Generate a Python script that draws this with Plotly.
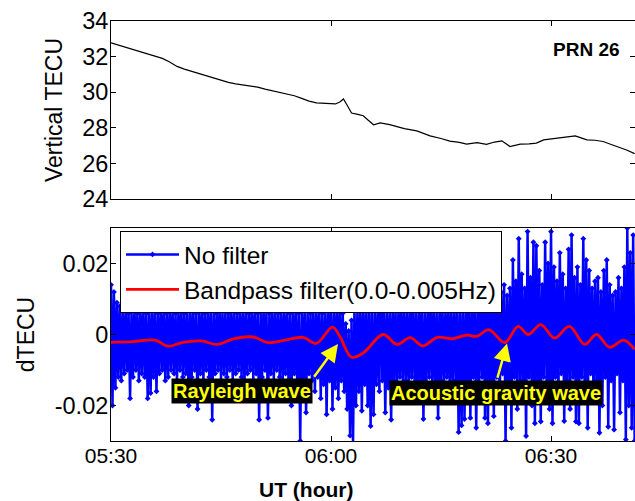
import pandas as pd
import plotly.graph_objects as go

T0 = pd.Timestamp("2011-03-11 05:30:00")

# ---- top panel: vertical TEC (PRN 26) ----
vtec_minutes = [0, 1, 2, 3, 4, 5, 6, 7, 8, 9, 10, 11, 12, 13, 14, 15, 16, 17, 18, 19,
                20, 21, 22, 23, 24, 25, 26, 27, 28, 29, 30, 30.6, 31.2, 31.7, 32.3, 32.8,
                33.5, 34.4, 35.0, 35.8, 36.7, 37.3, 38.0, 39.0, 40.0, 41.7, 42.5, 43.5,
                45.0, 46.2, 47.5, 48.5, 49.9, 51.2, 52.3, 53.3, 54.4, 55.8, 57.0, 58.0,
                59.0, 60.0, 61.2, 62.3, 63.3, 64.0, 64.9, 66.0, 67.1, 68.3, 69.4, 70.3, 71.4]
vtec_values = [32.77, 32.64, 32.52, 32.40, 32.26, 32.12, 32.01, 31.90, 31.70, 31.45,
               31.30, 31.17, 31.05, 30.95, 30.80, 30.66, 30.55, 30.47, 30.40, 30.36,
               30.28, 30.17, 30.07, 29.98, 29.90, 29.80, 29.65, 29.50, 29.40, 29.37,
               29.35, 29.34, 29.45, 29.62, 29.20, 28.83, 28.77, 28.68, 28.45, 28.17,
               28.28, 28.25, 28.18, 28.07, 27.95, 27.83, 27.70, 27.55, 27.40, 27.25,
               27.18, 27.08, 27.17, 27.07, 27.20, 27.27, 26.95, 27.08, 27.10, 27.14,
               27.32, 27.38, 27.45, 27.50, 27.55, 27.45, 27.32, 27.30, 27.23, 27.05,
               26.89, 26.75, 26.55]

# ---- bottom panel: dTEC, no filter (alternating local highs / lows, 12 s apart) ----
nofilter_high = [
    0.014, 0.012, 0.009, 0.008, 0.007, 0.008, 0.006, 0.007, 0.008, 0.006,
    0.007, 0.008, 0.006, 0.007, 0.008, 0.007, 0.006, 0.008, 0.007, 0.006,
    0.008, 0.007, 0.006, 0.007, 0.008, 0.006, 0.007, 0.008, 0.007, 0.006,
    0.007, 0.008, 0.006, 0.007, 0.008, 0.007, 0.006, 0.008, 0.007, 0.007,
    0.006, 0.008, 0.007, 0.006, 0.007, 0.008, 0.007, 0.006, 0.008, 0.007,
    0.006, 0.007, 0.008, 0.007, 0.006, 0.008, 0.007, 0.006, 0.007, 0.008,
    0.007, 0.006, 0.008, 0.007, 0.006, 0.007, 0.008, 0.007, 0.006, 0.008,
    0.007, 0.008, 0.006, 0.007, 0.009, 0.008, 0.007, 0.009, 0.008, 0.006,
    0.003, 0.001, 0.004, 0.008, 0.007, 0.009, 0.008, 0.007, 0.009, 0.008,
    0.007, 0.008, 0.028, 0.009, 0.007, 0.008, 0.009, 0.007, 0.008, 0.009,
    0.008, 0.007, 0.009, 0.008, 0.007, 0.008, 0.009, 0.007, 0.008, 0.009,
    0.008, 0.007, 0.009, 0.008, 0.007, 0.009, 0.008, 0.007, 0.009, 0.008,
    0.009, 0.008, 0.010, 0.009, 0.008, 0.010, 0.009, 0.011, 0.010, 0.012,
    0.011, 0.013, 0.010, 0.012, 0.014, 0.011, 0.013, 0.021, 0.015, 0.027,
    0.017, 0.013, 0.029, 0.016, 0.026, 0.025, 0.018, 0.014, 0.026, 0.020,
    0.029, 0.019, 0.015, 0.023, 0.017, 0.013, 0.024, 0.028, 0.016, 0.019,
    0.014, 0.027, 0.021, 0.018, 0.013, 0.015, 0.016, 0.012, 0.018, 0.021,
    0.014, 0.011, 0.012, 0.016, 0.013, 0.019, 0.030, 0.023, 0.028]
nofilter_low = [
    -0.020, -0.015, -0.012, -0.013, -0.011, -0.010, -0.018, -0.012, -0.010, -0.013,
    -0.011, -0.012, -0.018, -0.0165, -0.012, -0.016, -0.011, -0.010, -0.013, -0.012,
    -0.010, -0.011, -0.013, -0.010, -0.012, -0.011, -0.020, -0.012, -0.010, -0.021,
    -0.011, -0.013, -0.010, -0.012, -0.024, -0.011, -0.010, -0.013, -0.011, -0.012,
    -0.010, -0.013, -0.011, -0.010, -0.012, -0.014, -0.011, -0.010, -0.013, -0.011,
    -0.024, -0.012, -0.010, -0.0235, -0.011, -0.013, -0.010, -0.012, -0.014, -0.011,
    -0.013, -0.020, -0.011, -0.015, -0.030, -0.012, -0.022, -0.011, -0.013, -0.016,
    -0.012, -0.018, -0.014, -0.0225, -0.013, -0.021, -0.015, -0.018, -0.013, -0.016,
    -0.021, -0.0285, -0.031, -0.020, -0.016, -0.0215, -0.014, -0.020, -0.0258, -0.0225,
    -0.014, -0.016, -0.013, -0.022, -0.015, -0.024, -0.013, -0.016, -0.012, -0.015,
    -0.013, -0.016, -0.012, -0.014, -0.018, -0.013, -0.0238, -0.015, -0.012, -0.014,
    -0.016, -0.0235, -0.013, -0.015, -0.012, -0.017, -0.014, -0.013, -0.0275, -0.0256,
    -0.0238, -0.013, -0.0235, -0.012, -0.0263, -0.014, -0.012, -0.0235, -0.025, -0.013,
    -0.023, -0.012, -0.019, -0.011, -0.030, -0.013, -0.0263, -0.012, -0.021, -0.013,
    -0.019, -0.0286, -0.012, -0.020, -0.025, -0.013, -0.0245, -0.012, -0.016, -0.021,
    -0.025, -0.012, -0.019, -0.011, -0.0244, -0.013, -0.021, -0.012, -0.0245, -0.025,
    -0.012, -0.019, -0.0263, -0.011, -0.018, -0.013, -0.0277, -0.020, -0.012, -0.026,
    -0.013, -0.0268, -0.011, -0.022, -0.013, -0.0296, -0.020, -0.0263, -0.030]

# ---- bottom panel: bandpass filtered dTEC (turning points) ----
bandpass_minutes = [0, 3.0, 6.0, 7.8, 9.8, 12.3, 14.5, 16.7, 19.4, 21.4, 23.7, 26.2, 28.0,
                    30.2, 31.2, 32.8, 34.4, 37.1, 39.0, 40.8, 42.5, 44.5, 46.5, 48.5, 49.9,
                    51.5, 53.7, 55.5, 56.9, 58.6, 60.5, 62.5, 64.6, 66.2, 68.0, 69.9, 71.4]
bandpass_values = [-0.0022, -0.0020, -0.0016, -0.0033, -0.0022, -0.0018, -0.0028, -0.0012,
                   -0.0007, -0.0023, -0.0016, -0.0008, -0.0025, 0.0021, -0.0005, -0.0064,
                   -0.0052, 0.0000, -0.0028, -0.0009, -0.0032, -0.0008, -0.0012, -0.0002,
                   -0.0005, 0.0014, -0.0023, 0.0023, 0.0000, 0.0028, -0.0010, 0.0023,
                   -0.0028, 0.0000, -0.0036, -0.0016, -0.0042]

x_ticks = ["05:30", "06:00", "06:30"]
vtec_ticks = [24, 26, 28, 30, 32, 34]
dtec_ticks = [-0.02, 0, 0.02]
dtec_ticktext = ["-0.02", "0", "0.02"]

FONT = "Liberation Sans, Arial, sans-serif"


def at(minutes):
    return T0 + pd.to_timedelta(minutes, unit="m")


vtec_time = [at(m) for m in vtec_minutes]
band_time = [at(m) for m in bandpass_minutes]
nf_time = pd.date_range(T0, periods=2 * len(nofilter_high), freq="12s")
nf_values = []
for h, l in zip(nofilter_high, nofilter_low):
    nf_values += [h, l]

tick_times = [pd.Timestamp("2011-03-11 " + s) for s in x_ticks]
x_range = [T0, at(71.45)]

fig = go.Figure()
fig.add_trace(go.Scatter(x=vtec_time, y=vtec_values, mode="lines",
                         line=dict(color="black", width=1.2), showlegend=False,
                         xaxis="x", yaxis="y"))
fig.add_trace(go.Scatter(x=nf_time, y=nf_values, mode="lines+markers", name="No filter",
                         line=dict(color="#0000FF", width=2.5, simplify=False),
                         marker=dict(color="#0000FF", size=4.5, symbol="diamond"),
                         xaxis="x2", yaxis="y2"))
fig.add_trace(go.Scatter(x=band_time, y=bandpass_values, mode="lines",
                         name="Bandpass filter(0.0-0.005Hz)",
                         line=dict(color="#FF0000", width=2.8, shape="spline"),
                         xaxis="x2", yaxis="y2"))

axis_common = dict(showline=True, linecolor="black", linewidth=1, mirror="allticks",
                   ticks="inside", ticklen=5, tickcolor="black", showgrid=False,
                   zeroline=False)
xtick_font = dict(family=FONT, size=21, color="black")
ytick_font = dict(family=FONT, size=23.5, color="black")

fig.update_layout(
    width=635, height=501,
    margin=dict(l=111, r=0, t=21, b=60),
    paper_bgcolor="white", plot_bgcolor="white",
    font=dict(family=FONT, color="black"),
    xaxis=dict(domain=[0, 1], anchor="y", range=x_range, type="date",
               tickvals=tick_times, ticktext=x_ticks, showticklabels=False,
               tickfont=xtick_font, **axis_common),
    yaxis=dict(domain=[0.5762, 1.0], anchor="x", range=[24, 34], tickvals=vtec_ticks,
               tickfont=ytick_font, ticklabelstandoff=-3,
               title=dict(text="Vertical TECU", font=dict(family=FONT, size=23), standoff=13),
               **axis_common),
    xaxis2=dict(domain=[0, 1], anchor="y2", range=x_range, type="date",
                tickvals=tick_times, ticktext=x_ticks, tickfont=xtick_font,
                ticklabelstandoff=-4, **axis_common),
    yaxis2=dict(domain=[0, 0.5071], anchor="x2", range=[-0.03, 0.03], tickvals=dtec_ticks,
                ticktext=dtec_ticktext, tickfont=ytick_font, ticklabelstandoff=-3,
                title=dict(text="dTECU", font=dict(family=FONT, size=23), standoff=13),
                **axis_common),
    legend=dict(x=0.0172, y=0.5, xanchor="left", yanchor="top",
                bgcolor="white", bordercolor="black", borderwidth=1,
                font=dict(family=FONT, size=24.5, color="black"), itemwidth=53,
                tracegroupgap=0),
)

fig.add_annotation(x=0.372, y=-0.1143, xref="paper", yref="paper", text="<b>UT (hour)</b>",
                   xanchor="center", yanchor="middle",
                   showarrow=False, font=dict(family=FONT, size=21, color="black"))

label_font = dict(family=FONT, size=20, color="#FFFF00")
fig.add_annotation(x=at(64.9), y=32.39, xref="x", yref="y", text="<b>PRN 26</b>",
                   showarrow=False, font=dict(family=FONT, size=19, color="black"))
fig.add_annotation(x=at(17.87), y=-0.0158, xref="x2", yref="y2", text="<b>Rayleigh wave</b>",
                   showarrow=False, font=label_font, bgcolor="black", borderpad=1)
fig.add_annotation(x=at(52.5), y=-0.0166, xref="x2", yref="y2",
                   text="<b>Acoustic gravity wave</b>",
                   showarrow=False, font=label_font, bgcolor="black", borderpad=1)
for tip_m, tip_v, tail_m, tail_v in [(30.95, -0.0027, 27.55, -0.0123),
                                     (54.0, -0.0025, 52.64, -0.0126)]:
    fig.add_annotation(x=at(tip_m), y=tip_v, ax=at(tail_m), ay=tail_v,
                       xref="x2", yref="y2", axref="x2", ayref="y2", text="",
                       showarrow=True, arrowhead=2, arrowsize=1.4, arrowwidth=2.5,
                       arrowcolor="#FFFF00", standoff=0)

fig.write_html("out.html")
